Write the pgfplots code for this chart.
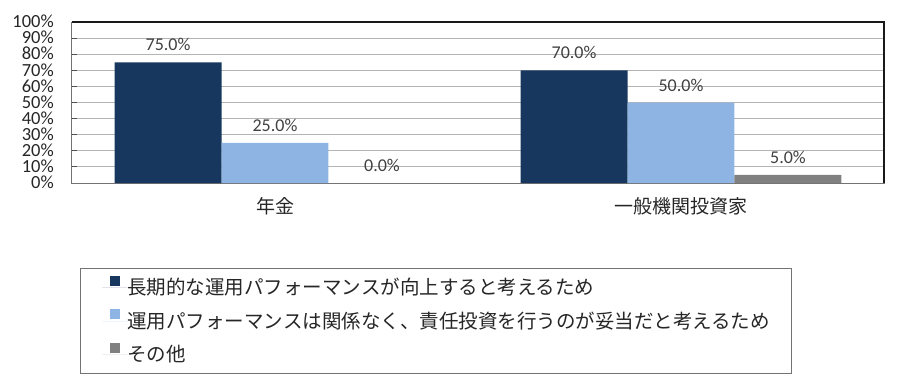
\documentclass[border=0pt]{standalone}
\usepackage{fontspec}
\setmainfont{Carlito}
\newfontfamily\jp{Noto Sans CJK JP}
\usepackage{pgfplots}
\pgfplotsset{compat=1.18}
\definecolor{c1}{HTML}{17375E}
\definecolor{c2}{HTML}{8DB4E2}
\definecolor{c3}{HTML}{808080}
\definecolor{gridc}{HTML}{B4B4B4}
\begin{document}
\begin{tikzpicture}
\begin{axis}[
  name=ax,
  scale only axis, width=812pt, height=161pt,
  ybar=0pt, bar width=0.2635,
  xmin=-0.5, xmax=1.5, ymin=0, ymax=100,
  enlargelimits=false,
  xtick={0,1}, xticklabels={年金,一般機関投資家},
  x tick label style={font=\jp\fontsize{19}{19}\selectfont, inner sep=0pt, yshift=-14pt, anchor=north, text=black!85},
  ytick={0,10,...,100},
  yticklabel={\pgfmathprintnumber{\tick}\%},
  /pgf/number format/assume math mode=true,
  y tick label style={font=\fontsize{18.5}{18.5}\selectfont, inner sep=0pt, text height=11.5pt, text depth=0pt, xshift=-18pt, text=black!85},
  ymajorgrids, grid style={gridc, line width=1pt},
  tick align=inside, major tick length=5pt, tick pos=left,
  ytick style={black!70, line width=1pt}, xtick style={draw=none},
  axis line style={black!55, line width=1pt},
  nodes near coords={\pgfmathprintnumber[fixed,fixed zerofill,precision=1]{\pgfplotspointmeta}\%},
  every node near coord/.append style={font=\fontsize{18}{18}\selectfont, text=black!75, inner sep=0pt, anchor=south, yshift=11pt},
  legend cell align=left,
  legend style={at={(axis description cs:0.0098,-0.528)}, anchor=north west, draw=black!55, line width=1pt,
    font=\jp\fontsize{19.5}{19.5}\selectfont, text=black!85, inner xsep=22pt, inner ysep=5pt, row sep=5.5pt,
    nodes={inner sep=0pt, text height=21pt, text depth=7pt}},
  legend image code/.code={\path[#1,draw=none] (0pt,2pt) rectangle (10pt,12pt); \path (-8pt,0pt) -- (17pt,0pt);},
]
\addplot[fill=c1, draw=none] coordinates {(0,75) (1,70)};
\addlegendentry{長期的な運用パフォーマンスが向上すると考えるため}
\addplot[fill=c2, draw=none] coordinates {(0,25) (1,50)};
\addlegendentry{運用パフォーマンスは関係なく、責任投資を行うのが妥当だと考えるため}
\addplot[fill=c3, draw=none] coordinates {(0,0) (1,5)};
\addlegendentry{その他}
\end{axis}
\draw[black!90, line width=1.5pt] (ax.north west) -- (ax.north east) -- (ax.south east);
\pgfresetboundingbox
\path ([shift={(-72pt,-203pt)}]ax.south west) rectangle ([shift={(828pt,183pt)}]ax.south west);
\end{tikzpicture}
\end{document}
